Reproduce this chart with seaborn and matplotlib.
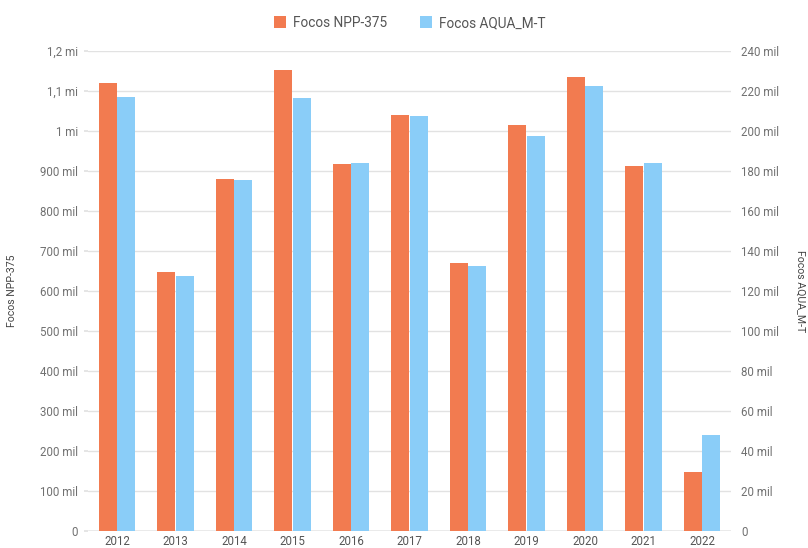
import matplotlib
matplotlib.use("Agg")
import numpy as np
import pandas as pd
import seaborn as sns
import matplotlib.pyplot as plt
from matplotlib.ticker import FuncFormatter, MultipleLocator
from matplotlib.patches import Patch

# ---- data ----
years = ["2012", "2013", "2014", "2015", "2016", "2017", "2018", "2019", "2020", "2021", "2022"]
npp = [1119000, 648000, 880000, 1152000, 917000, 1040000, 670000, 1013000, 1134000, 912000, 146000]
aqua = [217000, 127500, 175500, 216500, 184000, 207200, 132500, 197300, 222500, 183800, 47800]
series = ["Focos NPP-375", "Focos AQUA_M-T"]
colors = ["#F27B50", "#8ACDF8"]

sns.set_theme(style="white")
plt.rcParams["font.family"] = ["Roboto", "DejaVu Sans"]

df_npp = pd.DataFrame({"ano": years, "valor": npp, "serie": series[0]})
df_aqua = pd.DataFrame({"ano": years, "valor": aqua, "serie": series[1]})

W, H = 808, 548
fig = plt.figure(figsize=(W / 100, H / 100), dpi=100)
left, right = 87.75, 731.25
top, bottom = 50.7, 530.7
ax1 = fig.add_axes([left / W, (H - bottom) / H, (right - left) / W, (bottom - top) / H])
ax2 = ax1.twinx()

common = dict(x="ano", y="valor", hue="serie", hue_order=series, palette=colors,
              order=years, width=0.635, gap=0.05, dodge=True, errorbar=None,
              legend=False, linewidth=0, saturation=1)
sns.barplot(data=df_npp, ax=ax1, **common)
sns.barplot(data=df_aqua, ax=ax2, **common)

ax1.set_xlim(-0.5, len(years) - 0.5)
ax1.set_ylim(0, 1200000)
ax2.set_ylim(0, 240000)
ax1.yaxis.set_major_locator(MultipleLocator(100000))
ax2.yaxis.set_major_locator(MultipleLocator(20000))


def fmt_left(v, pos):
    if abs(v) < 1:
        return "0"
    if v >= 1000000:
        s = ("%.1f" % (v / 1e6)).rstrip("0").rstrip(".").replace(".", ",")
        return s + " mi"
    return "%d mil" % round(v / 1000)


def fmt_right(v, pos):
    if abs(v) < 1:
        return "0"
    return "%d mil" % round(v / 1000)


ax1.yaxis.set_major_formatter(FuncFormatter(fmt_left))
ax2.yaxis.set_major_formatter(FuncFormatter(fmt_right))

for ax in (ax1, ax2):
    for s in ax.spines.values():
        s.set_visible(False)
    ax.set_xlabel("")
    ax.patch.set_alpha(0)

ax1.yaxis.grid(True, color="#e2e2e2", lw=1)
ax1.set_axisbelow(True)
ax1.axhline(0, color="#a0a0a0", lw=1, zorder=0.5)

ax1.tick_params(axis="y", length=3, color="#e2e2e2", labelsize=8.3, labelcolor="#707070", pad=4)
ax2.tick_params(axis="y", length=0, labelsize=8.3, labelcolor="#707070", pad=7)
ax1.tick_params(axis="x", length=0, labelsize=8.3, labelcolor="#555555", pad=3)
ax2.tick_params(axis="x", length=0, labelbottom=False)

ax1.set_ylabel("Focos NPP-375", fontsize=7.6, color="#444444")
ax1.yaxis.set_label_coords((17 - left) / (right - left), 0.5)
ax2.set_ylabel("Focos AQUA_M-T", fontsize=7.6, color="#444444", rotation=270, va="center")
ax2.yaxis.set_label_coords((800 - left) / (right - left), 0.5)

handles = [Patch(facecolor=c, edgecolor="none", label=l) for c, l in zip(colors, series)]
fig.legend(handles=handles, loc="center", bbox_to_anchor=(0.507, 1 - 23 / H), ncol=2,
           frameon=False, fontsize=9.8, handlelength=0.9, handleheight=0.95,
           columnspacing=2.4, handletextpad=0.5, labelcolor="#555555")

fig.savefig("out.png", dpi=100)
